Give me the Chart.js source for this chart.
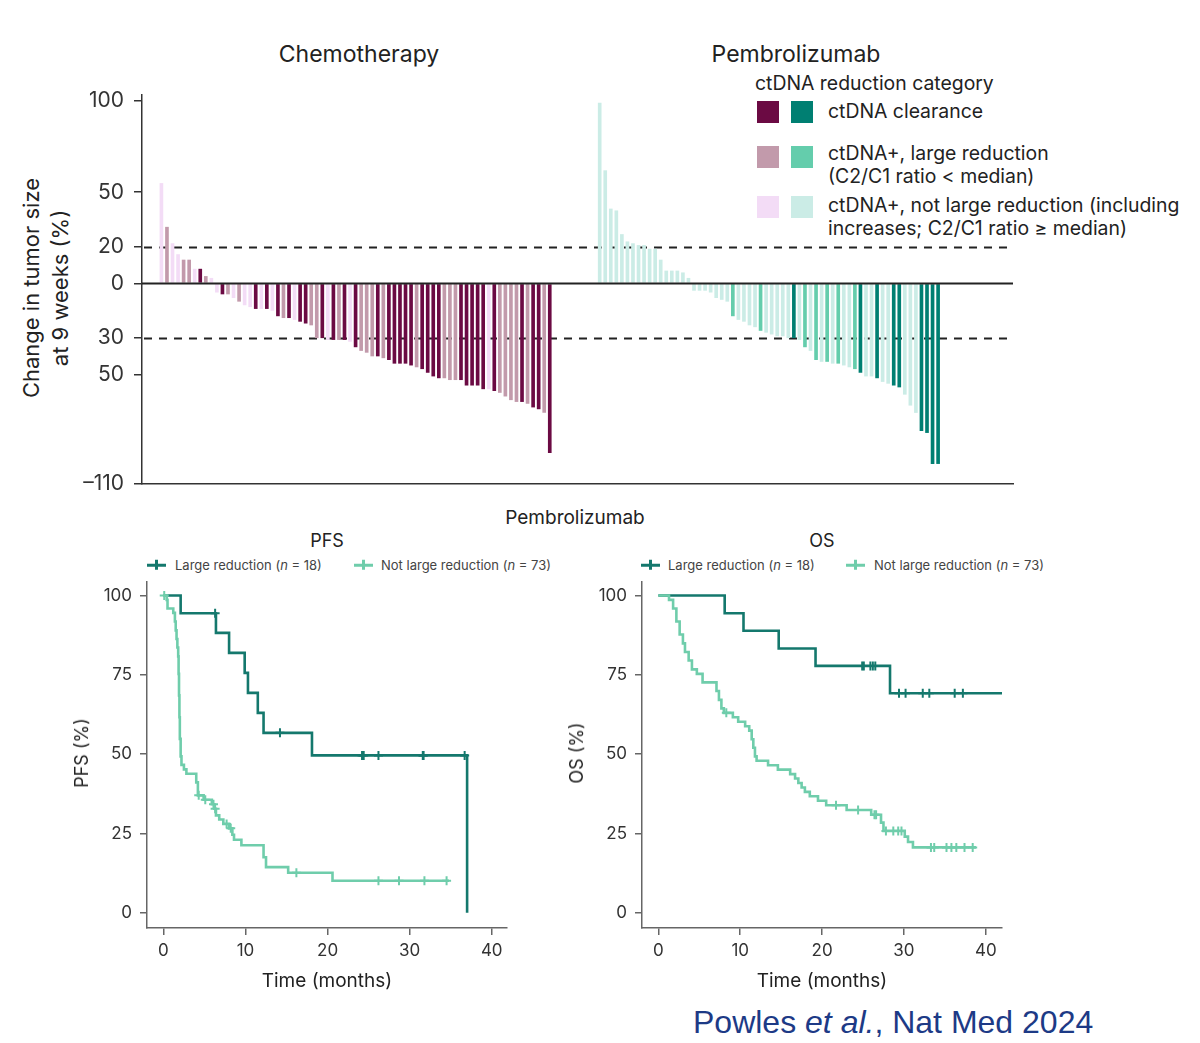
<!DOCTYPE html>
<html>
<head>
<meta charset="utf-8">
<script src="https://cdn.jsdelivr.net/npm/chart.js@4.4.1/dist/chart.umd.min.js"></script>
<style>
body{margin:0;width:1200px;height:1043px;background:#fff;position:relative;overflow:hidden;font-family:Inter,"Noto Sans",sans-serif;color:#222}
.t{position:absolute;white-space:nowrap;line-height:1}
.c{transform:translate(-50%,-50%)}
.l{transform:translateY(-50%)}
.sw{position:absolute;width:22px;height:22px}
.mk{position:absolute;width:19px;height:2.5px;transform:translateY(-50%)}
.mk::after{content:"";position:absolute;left:8px;top:-4px;width:2.5px;height:10px;background:inherit}
canvas{position:absolute}
</style>
</head>
<body>
<div class="t c" style="left:359px;top:54px;font-size:23px">Chemotherapy</div>
<div class="t c" style="left:796px;top:54px;font-size:23px">Pembrolizumab</div>
<div class="t c" style="left:46px;top:288px;font-size:22px;line-height:29px;text-align:center;transform:translate(-50%,-50%) rotate(-90deg)">Change in tumor size<br>at 9 weeks (%)</div>

<div class="t l" style="left:755px;top:84px;font-size:19.4px">ctDNA reduction category</div>
<div class="sw" style="left:757px;top:101px;background:#6b0a43"></div>
<div class="sw" style="left:791px;top:101px;background:#007f72"></div>
<div class="t l" style="left:828px;top:112px;font-size:19.4px">ctDNA clearance</div>
<div class="sw" style="left:757px;top:146px;background:#c29aab"></div>
<div class="sw" style="left:791px;top:146px;background:#64cdac"></div>
<div class="t l" style="left:828px;top:154px;font-size:19.4px">ctDNA+, large reduction</div>
<div class="t l" style="left:828px;top:177px;font-size:19.4px">(C2/C1 ratio &lt; median)</div>
<div class="sw" style="left:757px;top:196px;background:#f3dcf6"></div>
<div class="sw" style="left:791px;top:196px;background:#cbece6"></div>
<div class="t l" style="left:828px;top:206px;font-size:19.4px">ctDNA+, not large reduction (including</div>
<div class="t l" style="left:828px;top:229px;font-size:19.4px">increases; C2/C1 ratio ≥ median)</div>

<canvas id="waterfall" width="1020" height="410" style="left:0;top:88px"></canvas>

<div class="t c" style="left:575px;top:517px;font-size:19px">Pembrolizumab</div>
<div class="t c" style="left:327px;top:541px;font-size:18px">PFS</div>
<div class="t c" style="left:822px;top:541px;font-size:18px">OS</div>

<div class="mk" style="left:147px;top:565px;background:#14786d"></div>
<div class="t l" style="left:175px;top:565px;font-size:13px;color:#444">Large reduction (<i>n</i> = 18)</div>
<div class="mk" style="left:354px;top:565px;background:#6fcdab"></div>
<div class="t l" style="left:381px;top:565px;font-size:13px;color:#444">Not large reduction (<i>n</i> = 73)</div>
<div class="mk" style="left:641px;top:565px;background:#14786d"></div>
<div class="t l" style="left:668px;top:565px;font-size:13px;color:#444">Large reduction (<i>n</i> = 18)</div>
<div class="mk" style="left:846px;top:565px;background:#6fcdab"></div>
<div class="t l" style="left:874px;top:565px;font-size:13px;color:#444">Not large reduction (<i>n</i> = 73)</div>

<canvas id="pfs" width="455" height="420" style="left:60px;top:575px"></canvas>
<canvas id="os" width="455" height="420" style="left:555px;top:575px"></canvas>

<div class="t c" style="left:82px;top:753px;font-size:18px;transform:translate(-50%,-50%) rotate(-90deg)">PFS (%)</div>
<div class="t c" style="left:577px;top:753px;font-size:18px;transform:translate(-50%,-50%) rotate(-90deg)">OS (%)</div>
<div class="t c" style="left:327px;top:980px;font-size:19px">Time (months)</div>
<div class="t c" style="left:822px;top:980px;font-size:19px">Time (months)</div>

<div class="t l" style="left:693px;top:1022px;font-size:32px;font-family:'Liberation Sans',Arial,sans-serif;color:#1d3a86">Powles <i>et al.</i>, Nat Med 2024</div>

<script>
// waterfall: change in tumour size at 9 weeks (%), 0 = clearance, 1 = large reduction, 2 = not large
const chemoChange = [55,31,22,16,13,13,8,8,4,3,-5,-6,-6,-8,-10,-12,-13,-14,-14,-14,-15,-18,-19,-19,-20,-21,-22,-23,-30,-30,-31,-31,-31,-31,-32,-35,-37,-38,-40,-40,-41,-42,-44,-44,-44,-45,-46,-47,-49,-51,-52,-52,-53,-53,-53,-56,-56,-56,-58,-58,-59,-60,-62,-64,-65,-65,-66,-68,-69,-71,-93];
const chemoCategory = [2,1,2,2,1,1,2,0,1,2,2,0,1,2,1,2,2,0,2,0,2,0,1,0,2,0,0,1,1,0,2,0,1,0,2,0,1,1,1,0,1,0,0,0,0,0,1,0,0,0,0,1,1,1,0,0,0,0,0,2,0,1,1,1,1,0,1,0,0,1,0];
const pembroChange = [99,62,41,40,27,23,22,21,21,19,19,13,7,7,7,6,3,-4,-4,-4,-5,-8,-9,-10,-18,-20,-21,-23,-24,-26,-27,-28,-29,-29,-30,-30,-31,-35,-37,-42,-43,-43,-44,-44,-45,-46,-47,-49,-51,-51,-52,-54,-55,-56,-57,-61,-67,-71,-81,-82,-99,-99];
const pembroCategory = [2,2,2,2,2,2,2,2,2,2,2,2,2,2,2,2,2,2,2,2,2,2,2,2,1,2,2,2,2,1,2,2,2,2,2,0,2,1,2,1,2,1,2,1,2,2,1,0,2,2,0,2,2,0,0,2,2,2,0,0,0,0];
const yTicks = [100,50,20,0,-30,-50,-110];
const refLines = [20,-30];

const chemoColors = ["#6b0a43","#c29aab","#f3dcf6"];
const pembroColors = ["#007f72","#64cdac","#cbece6"];

// slot layout: empty slots before, between and after the two arms
const padStart = 3, padGap = 8, padEnd = 13;
const nSlots = padStart + chemoChange.length + padGap + pembroChange.length + padEnd;
const labels = [];
for (let i = 0; i < nSlots; i++) labels.push(String(i));
const pembroStart = padStart + chemoChange.length + padGap;

const chemoData = labels.map((l, i) => {
  const k = i - padStart;
  return (k >= 0 && k < chemoChange.length) ? chemoChange[k] : null;
});
const chemoBg = labels.map((l, i) => {
  const k = i - padStart;
  return (k >= 0 && k < chemoChange.length) ? chemoColors[chemoCategory[k]] : "#fff";
});
const pembroData = labels.map((l, i) => {
  const k = i - pembroStart;
  return (k >= 0 && k < pembroChange.length) ? pembroChange[k] : null;
});
const pembroBg = labels.map((l, i) => {
  const k = i - pembroStart;
  return (k >= 0 && k < pembroChange.length) ? pembroColors[pembroCategory[k]] : "#fff";
});

const refLinePlugin = {
  id: "refLinePlugin",
  beforeDatasetsDraw(chart) {
    const {ctx, chartArea, scales} = chart;
    ctx.save();
    ctx.strokeStyle = "#222";
    ctx.lineWidth = 2;
    ctx.setLineDash([8, 7]);
    refLines.forEach(v => {
      const y = Math.round(scales.y.getPixelForValue(v)) + 0.5;
      ctx.beginPath();
      ctx.moveTo(chartArea.left + 2, y);
      ctx.lineTo(chartArea.right, y);
      ctx.stroke();
    });
    ctx.restore();
  },
  afterDatasetsDraw(chart) {
    const {ctx, chartArea, scales} = chart;
    const y = scales.y.getPixelForValue(0);
    ctx.save();
    ctx.strokeStyle = "#222";
    ctx.lineWidth = 2;
    ctx.beginPath();
    ctx.moveTo(chartArea.left, y);
    ctx.lineTo(chartArea.right, y);
    ctx.stroke();
    ctx.restore();
  }
};

// keep axis boxes to fixed sizes so the plot area lands where the figure has it
function fixBox(w, h) {
  return s => {
    if (w !== null) s.width = w;
    if (h !== null) s.height = h;
    s.paddingTop = 0; s.paddingBottom = 0; s.paddingLeft = 0; s.paddingRight = 0;
  };
}

new Chart("waterfall", {
  type: "bar",
  data: {
    labels: labels,
    datasets: [
      {data: chemoData, backgroundColor: chemoBg, grouped: false, barPercentage: 0.66, categoryPercentage: 1},
      {data: pembroData, backgroundColor: pembroBg, grouped: false, barPercentage: 0.66, categoryPercentage: 1}
    ]
  },
  options: {
    responsive: false,
    animation: false,
    layout: {padding: {top: 7, right: 7}},
    plugins: {legend: {display: false}, tooltip: {enabled: false}},
    scales: {
      x: {
        ticks: {display: false},
        grid: {display: false},
        border: {display: true, color: "#333", width: 1.5},
        afterFit: fixBox(null, 14)
      },
      y: {
        min: -110,
        max: 103.3,
        afterBuildTicks: s => { s.ticks = yTicks.map(v => ({value: v})); },
        afterFit: fixBox(142, null),
        ticks: {
          padding: 10,
          color: "#333",
          font: {size: 21, family: "Inter"},
          callback: v => v === -110 ? "\u2013110" : String(Math.abs(v))
        },
        grid: {drawOnChartArea: false, drawTicks: true, tickLength: 8, color: "#333", lineWidth: 1.5},
        border: {display: true, color: "#333", width: 1.5}
      }
    }
  },
  plugins: [refLinePlugin]
});

// Kaplan-Meier curves (time in months, survival in %)
const pfsLargeTime = [0, 2.1, 6.4, 8.0, 9.9, 10.3, 11.5, 12.2, 18.1, 37.0];
const pfsLargeSurv = [100, 94.4, 88.2, 81.9, 75.6, 69.3, 63.0, 56.7, 49.6, 0];
const pfsLargeCensor = [6.3, 14.2, 24.2, 24.4, 26.2, 31.6, 31.7, 36.7];

const pfsNotTime = [0,0.4,0.5,1.2,1.4,1.5,1.6,1.7,1.8,1.85,1.9,1.95,2.0,2.1,2.2,2.5,2.8,4.0,4.2,4.9,5.9,6.2,6.4,6.8,7.3,8.0,8.4,8.6,9.5,12.2,12.5,15.2,20.6,34.8];
const pfsNotSurv = [100,98.6,95.9,94.5,91.8,89.0,86.3,83.6,80.8,75.3,68.5,61.6,54.8,49.3,46.6,45.2,43.8,41.1,37.0,35.6,34.2,32.8,30.7,29.4,28.0,26.6,24.6,23.0,21.3,17.5,14.4,12.6,10.1,10.1];
const pfsNotCensor = [0.1, 4.3, 5.1, 6.1, 6.3, 7.7, 8.2, 16.2, 26.2, 28.7, 31.8, 34.5];

const osLargeTime = [0, 8.1, 10.4, 14.7, 19.2, 28.3, 42];
const osLargeSurv = [100, 94.4, 88.9, 83.3, 77.8, 69.2, 69.2];
const osLargeCensor = [24.9, 25.1, 25.9, 26.2, 26.5, 29.4, 30.2, 32.3, 33.1, 36.2, 37.2];

const osNotTime = [0,1.3,1.8,2.2,2.6,3.0,3.25,3.7,4.1,4.7,5.4,7.1,7.4,7.7,8.0,9.1,9.75,10.6,11.1,11.4,11.6,11.8,12.0,13.4,14.6,16.1,16.7,17.1,17.5,17.9,18.5,19.5,20.5,23.0,26.0,27.2,27.5,30.1,30.5,31.1,38.8];
const osNotSurv = [100,98.6,95.9,91.8,87.7,84.9,82.2,79.5,76.7,75.3,72.6,69.9,67.1,64.4,63.0,61.6,60.2,58.8,57.4,54.7,52.0,49.3,47.9,46.5,45.1,43.7,42.3,40.9,39.5,38.1,36.7,35.3,33.9,32.4,30.9,28.4,25.8,24.0,22.3,20.6,20.6];
const osNotCensor = [8.3, 21.7, 24.4, 26.4, 26.6, 27.8, 28.7, 29.3, 29.7, 33.3, 33.7, 35.2, 35.8, 36.4, 37.4, 38.4];

const kmTicksX = [0, 10, 20, 30, 40];
const kmTicksY = [0, 25, 50, 75, 100];
const darkTeal = "#14786d";
const lightTeal = "#6fcdab";

function survAt(times, surv, t) {
  let s = surv[0];
  for (let i = 0; i < times.length; i++) if (times[i] <= t) s = surv[i];
  return s;
}

function curveSets(times, surv, censor, color) {
  return [
    {data: times.map((t, i) => ({x: t, y: surv[i]})), showLine: true, stepped: true, borderColor: color, borderWidth: 2.6, pointRadius: 0},
    {data: censor.map(t => ({x: t, y: survAt(times, surv, t)})), showLine: false, pointStyle: "cross", pointRadius: 4.5, borderColor: color, pointBorderWidth: 2}
  ];
}

function makeKM(id, xMin, xMax, datasets) {
  new Chart(id, {
    type: "scatter",
    data: {datasets: datasets},
    options: {
      responsive: false,
      animation: false,
      layout: {padding: {top: 5, right: 8}},
      plugins: {legend: {display: false}, tooltip: {enabled: false}},
      scales: {
        x: {
          type: "linear", min: xMin, max: xMax,
          afterBuildTicks: s => { s.ticks = kmTicksX.map(v => ({value: v})); },
          afterFit: fixBox(null, 67),
          ticks: {padding: 6, color: "#333", font: {size: 17, family: "Inter"}},
          grid: {drawOnChartArea: false, drawTicks: true, tickLength: 7, color: "#666", lineWidth: 1.5},
          border: {display: true, color: "#666", width: 1.5}
        },
        y: {
          type: "linear", min: -4.8, max: 104.4,
          afterBuildTicks: s => { s.ticks = kmTicksY.map(v => ({value: v})); },
          afterFit: fixBox(87, null),
          ticks: {padding: 8, color: "#333", font: {size: 17, family: "Inter"}},
          grid: {drawOnChartArea: false, drawTicks: true, tickLength: 7, color: "#666", lineWidth: 1.5},
          border: {display: true, color: "#666", width: 1.5}
        }
      }
    }
  });
}

makeKM("pfs", -2, 41.86, [
  ...curveSets(pfsNotTime, pfsNotSurv, pfsNotCensor, lightTeal),
  ...curveSets(pfsLargeTime, pfsLargeSurv, pfsLargeCensor, darkTeal)
]);
makeKM("os", -2, 41.98, [
  ...curveSets(osNotTime, osNotSurv, osNotCensor, lightTeal),
  ...curveSets(osLargeTime, osLargeSurv, osLargeCensor, darkTeal)
]);
</script>
</body>
</html>
